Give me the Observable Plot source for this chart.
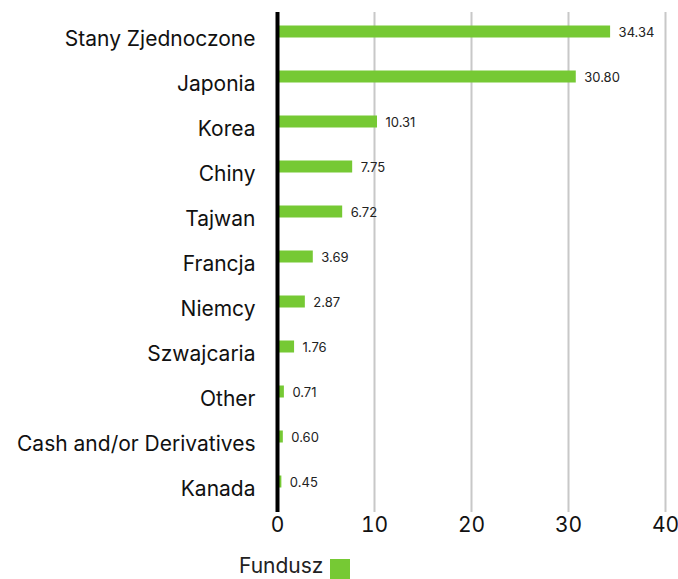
<!DOCTYPE html>
<html><head><meta charset="utf-8">
<script src="https://cdn.jsdelivr.net/npm/d3@7"></script>
<script src="https://cdn.jsdelivr.net/npm/@observablehq/plot@0.6"></script>
<style>
body{margin:0;background:#fff;font-family:Inter,"Open Sans",sans-serif;overflow:hidden;}
#legend{position:absolute;left:239px;top:554px;font-size:21px;color:#222;display:flex;align-items:flex-start;gap:7px;line-height:24px;}
#legend span.sw{display:inline-block;width:20px;height:20px;background:#76c934;margin-top:5px;}
</style></head>
<body><div id="chart"></div><div id="legend"><span>Fundusz</span><span class="sw"></span></div>
<script>
const categories = ["Stany Zjednoczone","Japonia","Korea","Chiny","Tajwan","Francja","Niemcy","Szwajcaria","Other","Cash and/or Derivatives","Kanada"];
const values = [34.34,30.80,10.31,7.75,6.72,3.69,2.87,1.76,0.71,0.60,0.45];
const xTicks = [0,10,20,30,40];
const data = categories.map((c,i)=>({c, v: values[i]}));
const chart = Plot.plot({
  width: 678, height: 550,
  marginLeft: 277, marginRight: 13, marginTop: 15, marginBottom: 38,
  style: {fontFamily: "Inter, 'Open Sans', sans-serif", color: "#111"},
  x: {domain: [0, 40], ticks: xTicks, tickSize: 0, label: null, tickFormat: d => d},
  y: {domain: categories, padding: 0, tickSize: 0, label: null},
  marks: [
    Plot.ruleX(xTicks.slice(1), {stroke: "#c8c8c8", strokeWidth: 2, insetTop: -3}),
    Plot.barX(data, {x: "v", y: "c", fill: "#76c934", insetTop: 9.5, insetBottom: 23.5}),
    Plot.text(data, {x: "v", y: "c", text: d => d.v.toFixed(2), dx: 8, dy: -6, textAnchor: "start", fontSize: 13, fill: "#222"}),
    Plot.ruleX([0], {stroke: "#000", strokeWidth: 4, insetTop: -3}),
    Plot.axisY({tickSize: 0, tickPadding: 22, fontSize: 21, label: null}),
    Plot.axisX({ticks: xTicks, tickSize: 0, tickPadding: 5, fontSize: 21, label: null})
  ]
});
document.getElementById("chart").appendChild(chart);
</script></body></html>
